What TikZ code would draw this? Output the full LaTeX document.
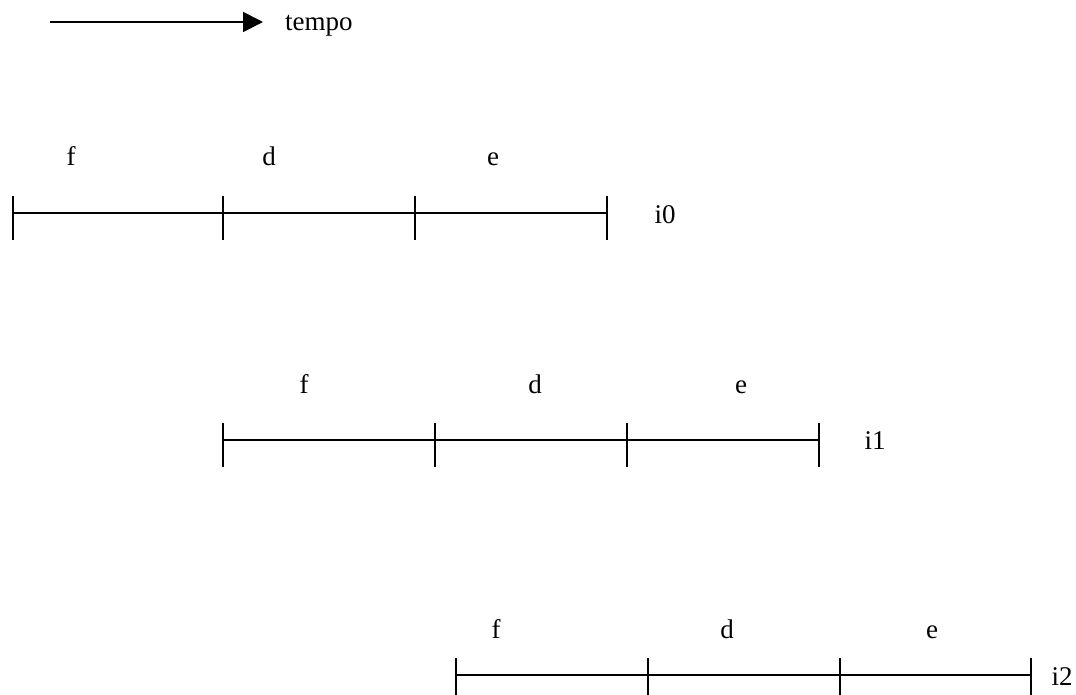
\documentclass[tikz,border=0pt]{standalone}
\usepackage{fontspec}
\setmainfont{Liberation Serif}
\usetikzlibrary{arrows.meta,positioning}
\tikzset{
  seg/.style={line width=1.8pt},
  tck/.style={line width=1.8pt},
  lbl/.style={font=\fontsize{27}{31}\selectfont, inner sep=0pt, anchor=mid},
  tarr/.style={-{Triangle[length=20pt,width=20pt]}, line width=1.8pt},
}
% one instruction: name, y, four tick positions
\newcommand{\instr}[6]{%
  \coordinate (#1a) at (#3,#2);
  \coordinate (#1b) at (#4,#2);
  \coordinate (#1c) at (#5,#2);
  \coordinate (#1d) at (#6,#2);
  \draw[seg] (#1a) -- (#1b) -- (#1c) -- (#1d);
  \foreach \p in {a,b,c,d}
    \draw[tck] ([yshift=17pt]#1\p) -- ([yshift=-27pt]#1\p);}

\begin{document}
\begin{tikzpicture}[x=1pt, y=-1pt]
    \useasboundingbox (0,0) rectangle (1076,694);
    % time arrow
    \coordinate (t0) at (50,22);
    \coordinate (t1) at (263,22);
    \draw[tarr] (t0) -- (t1);
    \node[lbl, anchor=mid west] (tempo) at (285,28) {tempo};
    % i0
    \instr{r0}{213}{13}{223}{415}{607}
    \node[lbl] (f0) at (71,163) {f};
    \node[lbl] (d0) at (269,163) {d};
    \node[lbl] (e0) at (493,163) {e};
    \node[lbl] (i0) at (665,221) {i0};
    % i1
    \instr{r1}{440}{223}{435}{627}{819}
    \node[lbl] (f1) at (304,391) {f};
    \node[lbl] (d1) at (535,391) {d};
    \node[lbl] (e1) at (741,391) {e};
    \node[lbl] (i1) at (875,447) {i1};
    % i2
    \instr{r2}{675}{456}{648}{840}{1031}
    \node[lbl] (f2) at (496,636) {f};
    \node[lbl] (d2) at (727,636) {d};
    \node[lbl] (e2) at (932,636) {e};
    \node[lbl] (i2) at (1062,683) {i2};
\end{tikzpicture}
\end{document}
